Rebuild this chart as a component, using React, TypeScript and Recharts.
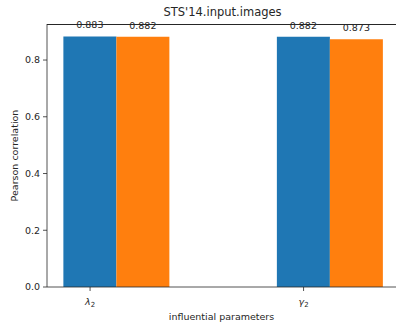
import { BarChart, Bar, XAxis, YAxis, LabelList, Label } from 'recharts'

const params = ['λ', 'γ']
const paramSub = ['2', '2']
const lambdaSeries = [0.883, 0.882]
const gammaSeries = [0.882, 0.873]
const yTicks = [0, 0.2, 0.4, 0.6, 0.8]
const yMax = 0.927

const data = params.map((p, i) => ({
  name: p,
  sub: paramSub[i],
  first: lambdaSeries[i],
  second: gammaSeries[i],
}))

const font = '"DejaVu Sans", sans-serif'
const ink = '#262626'

function ParamTick(props: any) {
  const { x, y, payload, index } = props
  // matplotlib puts the tick under the first bar of the group
  const cx = x - (payload.offset || 0) / 4
  return (
    <g>
      <line x1={cx} x2={cx} y1={y - 6} y2={y - 2} stroke={ink} strokeWidth={0.8} />
      <text x={cx} y={y + 12} textAnchor="middle" fontFamily={font} fontSize={9.5} fill={ink}>
        <tspan fontStyle="italic">{payload.value}</tspan>
        <tspan fontSize={7} dy={2}>{data[index]?.sub}</tspan>
      </text>
    </g>
  )
}

function YTitle({ viewBox }: any) {
  const cx = viewBox.x + 14
  const cy = viewBox.y + viewBox.height / 2
  return (
    <text
      x={cx}
      y={cy}
      transform={`rotate(-90 ${cx} ${cy})`}
      textAnchor="middle"
      dominantBaseline="central"
      fontFamily={font}
      fontSize={9.5}
      fill={ink}
    >
      Pearson correlation
    </text>
  )
}

export default function App() {
  return (
    <div style={{ position: 'absolute', left: 0, top: 0, width: 396, height: 327, background: '#fff', overflow: 'hidden' }}>
      <div
        style={{
          position: 'absolute',
          left: 0,
          width: 445,
          top: 5,
          textAlign: 'center',
          fontFamily: font,
          fontSize: 11.5,
          color: ink,
        }}
      >
        STS'14.input.images
      </div>
      <BarChart
        width={396}
        height={327}
        data={data}
        margin={{ top: 24, right: 0, left: 0, bottom: 0 }}
        barCategoryGap="25%"
        barGap={0}
      >
        <XAxis
          dataKey="name"
          height={40}
          padding={{ left: -37, right: -41 }}
          axisLine={{ stroke: ink, strokeWidth: 0.8 }}
          tickLine={false}
          tickSize={4}
          tickMargin={2}
          tick={<ParamTick />}
          interval={0}
        >
          <Label
            value="influential parameters"
            position="insideBottom"
            offset={7}
            style={{ fontFamily: font, fontSize: 9.5, fill: ink }}
          />
        </XAxis>
        <YAxis
          width={47}
          domain={[0, yMax]}
          allowDataOverflow
          ticks={yTicks}
          tickFormatter={(v: number) => v.toFixed(1)}
          tickSize={4}
          tickMargin={3}
          axisLine={{ stroke: ink, strokeWidth: 0.8 }}
          tickLine={{ stroke: ink, strokeWidth: 0.8 }}
          tick={{ fontFamily: font, fontSize: 9.5, fill: ink }}
        >
          <Label content={<YTitle />} />
        </YAxis>
        <Bar dataKey="first" fill="#1f77b4" isAnimationActive={false}>
          <LabelList
            dataKey="first"
            position="top"
            offset={8}
            formatter={(v: any) => Number(v).toFixed(3)}
            style={{ fontFamily: font, fontSize: 9.5, fill: ink }}
          />
        </Bar>
        <Bar dataKey="second" fill="#ff7f0e" isAnimationActive={false}>
          <LabelList
            dataKey="second"
            position="top"
            offset={8}
            formatter={(v: any) => Number(v).toFixed(3)}
            style={{ fontFamily: font, fontSize: 9.5, fill: ink }}
          />
        </Bar>
      </BarChart>
      {/* top spine of the axes frame */}
      <div
        style={{
          position: 'absolute',
          left: 47,
          top: 24,
          width: 349,
          height: 0,
          borderTop: `1px solid ${ink}`,
        }}
      />
    </div>
  )
}
